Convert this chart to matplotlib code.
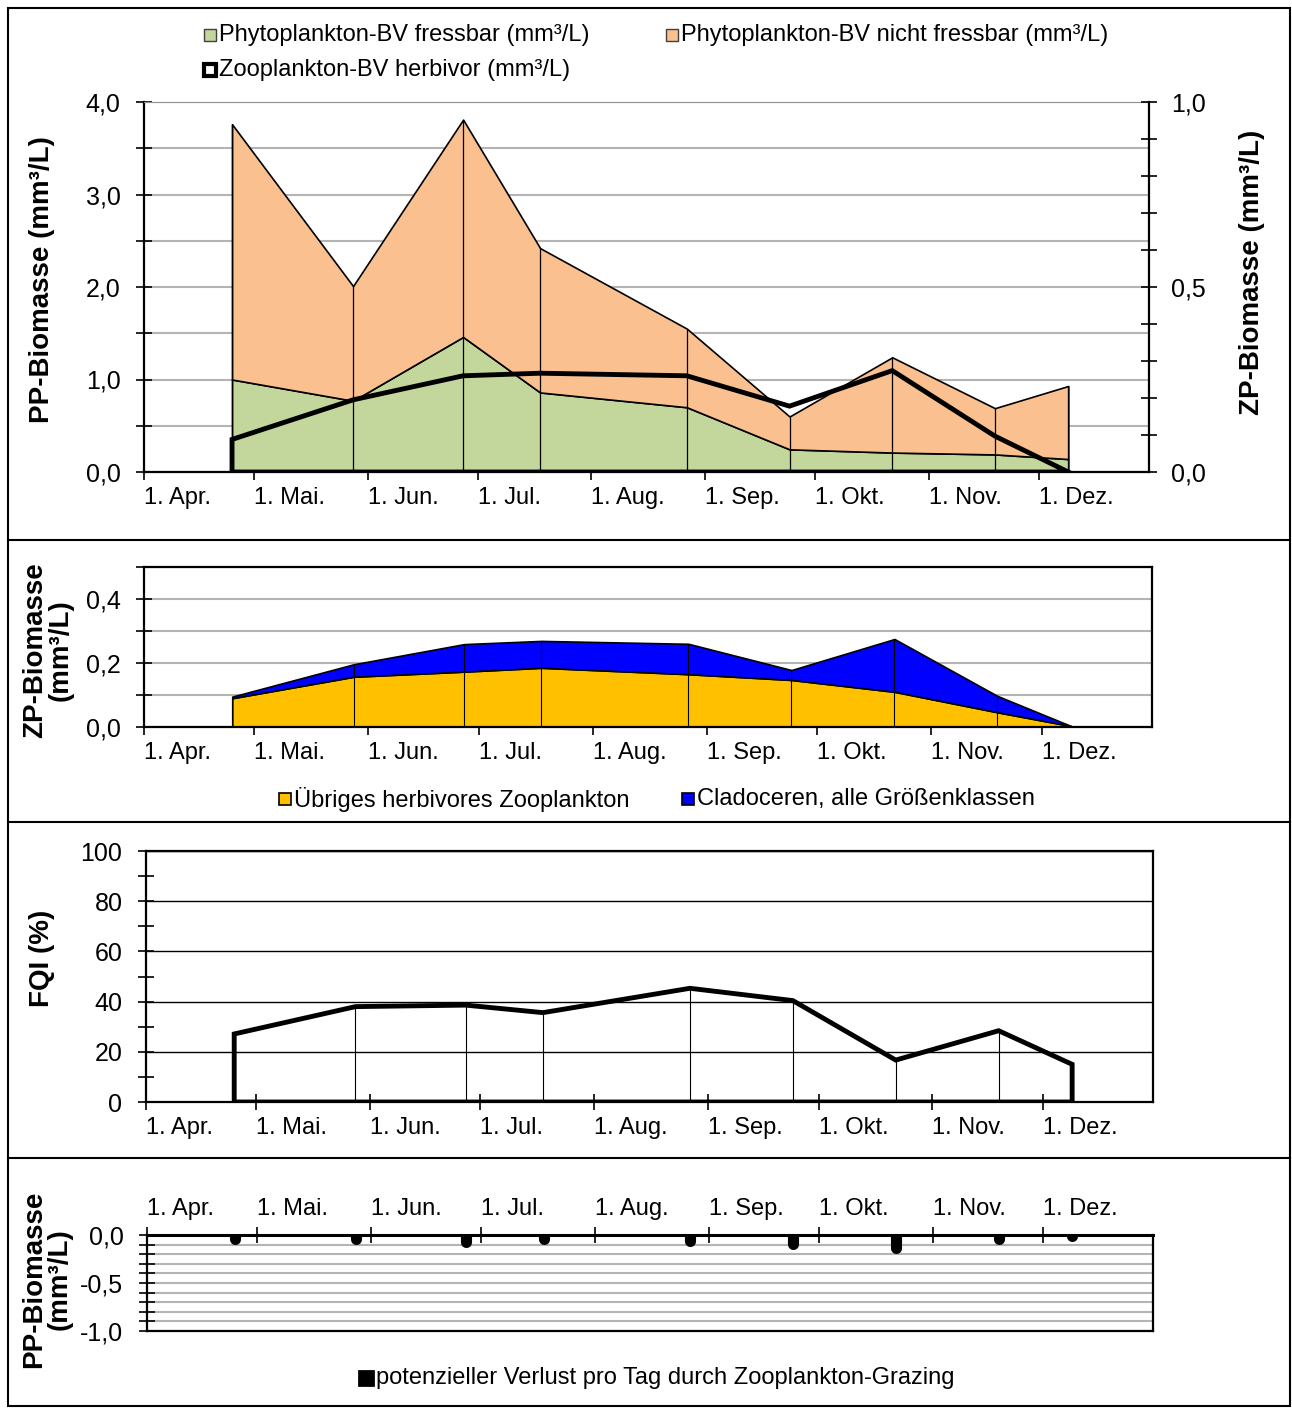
import matplotlib
import numpy as np
import pandas as pd

matplotlib.use("Agg")
from matplotlib import pyplot as plt
from matplotlib import ticker
from matplotlib.collections import LineCollection
from matplotlib.lines import Line2D
from matplotlib.patches import Rectangle

plt.rcParams["font.family"] = ["Liberation Sans", "DejaVu Sans"]

FIG_W, FIG_H = 1292, 1408

# sampling dates
dates = pd.to_datetime([
    "2021-04-25", "2021-05-28", "2021-06-27", "2021-07-18", "2021-08-27",
    "2021-09-24", "2021-10-22", "2021-11-19", "2021-12-09",
])
month_ticks = pd.to_datetime([
    "2021-04-01", "2021-05-01", "2021-06-01", "2021-07-01", "2021-08-01",
    "2021-09-01", "2021-10-01", "2021-11-01", "2021-12-01",
])
month_labels = ["1. Apr.", "1. Mai.", "1. Jun.", "1. Jul.", "1. Aug.",
                "1. Sep.", "1. Okt.", "1. Nov.", "1. Dez."]
x_start = pd.Timestamp("2021-04-01")
x_end = pd.Timestamp("2021-12-31")

# panel 1: phytoplankton biovolume (mm3/L), zooplankton on right axis
pp_fressbar = [1.00, 0.77, 1.46, 0.86, 0.70, 0.245, 0.21, 0.19, 0.14]
pp_total = [3.76, 2.01, 3.81, 2.42, 1.55, 0.60, 1.24, 0.69, 0.93]
zp_herbivor = [0.088, 0.195, 0.26, 0.267, 0.26, 0.178, 0.274, 0.097, 0.0]

# panel 2: zooplankton groups (mm3/L)
zp_uebrige = [0.090, 0.157, 0.173, 0.185, 0.165, 0.147, 0.110, 0.046, 0.003]
zp_clado = [0.005, 0.039, 0.086, 0.084, 0.095, 0.031, 0.165, 0.051, 0.0]

# panel 3: FQI (%)
fqi = [27.1, 38.0, 38.6, 35.6, 45.3, 40.4, 16.7, 28.4, 15.0]

# panel 4: potential daily loss by grazing (mm3/L)
grazing_loss = [-0.04, -0.04, -0.07, -0.04, -0.06, -0.09, -0.14, -0.04, -0.01]

GREEN = "#C3D69B"
ORANGE = "#FAC090"
YELLOW = "#FFC000"
BLUE = "#0000FF"
GRID_GRAY = "#B4B4B4"
TICK_SIZE = 17
YTICK_SIZE = 18
LEGEND_SIZE = 17
LABEL_SIZE = 20


def comma_fmt(decimals):
    return ticker.FuncFormatter(lambda v, pos: f"{v:.{decimals}f}".replace(".", ","))


def add_axes_px(fig, left, top, right, bottom):
    return fig.add_axes([left / FIG_W, 1 - bottom / FIG_H, (right - left) / FIG_W, (bottom - top) / FIG_H])


def style_date_axis(ax, top=False):
    ax.set_xlim(x_start, x_end)
    ax.set_xticks(month_ticks)
    ax.set_xticklabels(month_labels, ha="left")
    ax.tick_params(axis="x", direction="inout", length=12, width=1.2, labelsize=TICK_SIZE, pad=5)
    if top:
        ax.xaxis.tick_top()
        ax.tick_params(axis="x", pad=5)


def style_y(ax, major, minor, decimals):
    ax.yaxis.set_major_locator(ticker.MultipleLocator(major))
    ax.yaxis.set_minor_locator(ticker.MultipleLocator(minor))
    ax.yaxis.set_major_formatter(comma_fmt(decimals))
    ax.tick_params(axis="y", which="both", direction="inout", length=12, width=1.2, labelsize=YTICK_SIZE, pad=11)


def legend_entry(fig, x, y, face, label, edge="#404040", lw=1.0, size=12):
    fig.add_artist(Rectangle(((x - size / 2) / FIG_W, 1 - (y + size / 2) / FIG_H), size / FIG_W, size / FIG_H,
                             facecolor=face, edgecolor=edge, linewidth=lw, transform=fig.transFigure))
    fig.text((x + size / 2 + 3) / FIG_W, 1 - y / FIG_H, label, fontsize=LEGEND_SIZE, ha="left", va="center")


def hline_px(fig, y, x0=8, x1=1290, lw=1.5):
    fig.add_artist(Line2D([x0 / FIG_W, x1 / FIG_W], [1 - y / FIG_H, 1 - y / FIG_H],
                          color="black", linewidth=lw, transform=fig.transFigure))


fig = plt.figure(figsize=(FIG_W / 100, FIG_H / 100), dpi=100)

# outer frame and panel separators
fig.add_artist(Rectangle((8 / FIG_W, 1 - 1406 / FIG_H), 1282 / FIG_W, 1398 / FIG_H, fill=False,
                         edgecolor="black", linewidth=1.5, transform=fig.transFigure))
for y in [540, 822, 1158]:
    hline_px(fig, y)

# ---- panel 1 ----
ax1 = add_axes_px(fig, 144, 102, 1149, 472)
ax1.fill_between(dates, 0, pp_fressbar, facecolor=GREEN, edgecolor="black", linewidth=1.2, zorder=2)
ax1.fill_between(dates, pp_fressbar, pp_total, facecolor=ORANGE, edgecolor="black", linewidth=1.2, zorder=2)
ax1.vlines(dates, 0, pp_total, color="black", linewidth=0.9, zorder=3)
ax1.set_ylim(0, 4)
style_y(ax1, 1.0, 0.5, 1)
ax1.yaxis.grid(True, which="both", color=GRID_GRAY, linewidth=1.5, zorder=0)
ax1.set_axisbelow(True)
style_date_axis(ax1)
ax1.spines["top"].set_color("#909090")
ax1.spines["right"].set_visible(False)
for s in ["left", "bottom"]:
    ax1.spines[s].set_linewidth(1.6)

ax1b = ax1.twinx()
ax1b.set_ylim(0, 1)
zx = list(dates) + [dates[-1], dates[0]]
zy = zp_herbivor + [0, 0]
ax1b.fill(zx, zy, facecolor="none", edgecolor="black", linewidth=3.5, zorder=4)
ax1b.yaxis.set_major_locator(ticker.MultipleLocator(0.5))
ax1b.yaxis.set_minor_locator(ticker.MultipleLocator(0.1))
ax1b.yaxis.set_major_formatter(comma_fmt(1))
ax1b.tick_params(axis="y", which="both", direction="inout", length=12, width=1.2, labelsize=YTICK_SIZE, pad=10)
ax1b.spines["right"].set_linewidth(1.6)
for s in ["top", "left", "bottom"]:
    ax1b.spines[s].set_visible(False)

legend_entry(fig, 210, 35, GREEN, "Phytoplankton-BV fressbar (mm³/L)")
legend_entry(fig, 672, 35, ORANGE, "Phytoplankton-BV nicht fressbar (mm³/L)")
legend_entry(fig, 210, 70, "white", "Zooplankton-BV herbivor (mm³/L)", edge="black", lw=3.0)

fig.text(42 / FIG_W, 1 - 280 / FIG_H, "PP-Biomasse (mm³/L)", rotation=90, fontsize=LABEL_SIZE,
         fontweight="bold", ha="center", va="center")
fig.text(1252 / FIG_W, 1 - 272 / FIG_H, "ZP-Biomasse (mm³/L)", rotation=90, fontsize=LABEL_SIZE,
         fontweight="bold", ha="center", va="center")

# ---- panel 2 ----
zp_total = np.array(zp_uebrige) + np.array(zp_clado)
ax2 = add_axes_px(fig, 144, 567, 1152, 727)
ax2.fill_between(dates, 0, zp_uebrige, facecolor=YELLOW, edgecolor="black", linewidth=1.2, zorder=2)
ax2.fill_between(dates, zp_uebrige, zp_total, facecolor=BLUE, edgecolor="black", linewidth=1.2, zorder=2)
ax2.vlines(dates, 0, zp_total, color="black", linewidth=0.8, zorder=3)
ax2.set_ylim(0, 0.5)
style_y(ax2, 0.2, 0.1, 1)
ax2.yaxis.grid(True, which="both", color=GRID_GRAY, linewidth=1.5, zorder=0)
ax2.set_axisbelow(True)
style_date_axis(ax2)
for s in ax2.spines.values():
    s.set_linewidth(1.6)

legend_entry(fig, 285, 799, YELLOW, "Übriges herbivores Zooplankton", edge="black", lw=1.2)
legend_entry(fig, 688, 799, BLUE, "Cladoceren, alle Größenklassen", edge="black", lw=1.2)
fig.text(48 / FIG_W, 1 - 650 / FIG_H, "ZP-Biomasse\n(mm³/L)", rotation=90, fontsize=LABEL_SIZE,
         fontweight="bold", ha="center", va="center", multialignment="center", linespacing=1.0)

# ---- panel 3 ----
ax3 = add_axes_px(fig, 146, 851, 1153, 1102)
ax3.vlines(dates, 0, fqi, color="black", linewidth=0.8, zorder=3)
fx = list(dates) + [dates[-1], dates[0]]
fy = fqi + [0, 0]
ax3.fill(fx, fy, facecolor="none", edgecolor="black", linewidth=3.5, zorder=4)
ax3.set_ylim(0, 100)
style_y(ax3, 20, 10, 0)
ax3.yaxis.set_major_formatter(ticker.FormatStrFormatter("%d"))
ax3.yaxis.grid(True, which="major", color="black", linewidth=1.0, zorder=0)
style_date_axis(ax3)
for s in ax3.spines.values():
    s.set_linewidth(1.6)
fig.text(42 / FIG_W, 1 - 958 / FIG_H, "FQI (%)", rotation=90, fontsize=LABEL_SIZE,
         fontweight="bold", ha="center", va="center")

# ---- panel 4 ----
ax4 = add_axes_px(fig, 147, 1235, 1153, 1331)
ax4.set_ylim(-1, 0)
style_y(ax4, 0.5, 0.1, 1)
ax4.yaxis.grid(True, which="both", color=GRID_GRAY, linewidth=1.5, zorder=0)
ax4.set_axisbelow(True)
style_date_axis(ax4, top=True)
segments = [[(matplotlib.dates.date2num(d), 0), (matplotlib.dates.date2num(d), v)]
            for d, v in zip(dates, grazing_loss)]
bars = LineCollection(segments, colors="black", linewidths=8, zorder=4)
bars.set_capstyle("round")
ax4.add_collection(bars)
for s in ax4.spines.values():
    s.set_linewidth(1.6)
ax4.spines["top"].set_linewidth(2.2)

legend_entry(fig, 366, 1378, "black", "potenzieller Verlust pro Tag durch Zooplankton-Grazing", edge="black", lw=2.0, size=14)
fig.text(47 / FIG_W, 1 - 1279 / FIG_H, "PP-Biomasse\n(mm³/L)", rotation=90, fontsize=LABEL_SIZE,
         fontweight="bold", ha="center", va="center", multialignment="center", linespacing=1.0)

fig.savefig("out.png", dpi=100)
